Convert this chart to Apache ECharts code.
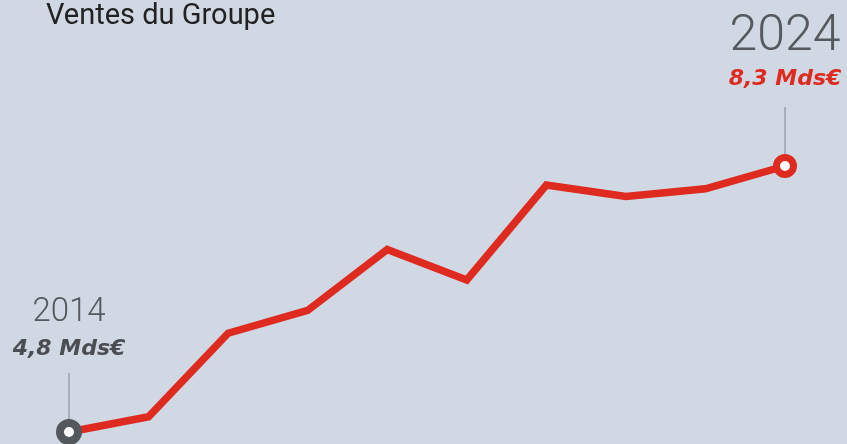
<!DOCTYPE html>
<html>
<head>
<meta charset="utf-8">
<script src="https://cdn.jsdelivr.net/npm/echarts@6/dist/echarts.min.js"></script>
<style>
  html, body { margin: 0; padding: 0; background: #d0d8e4; }
  #chart { width: 847px; height: 444px; }
</style>
</head>
<body>
<div id="chart"></div>
<script>
const years = ['2014', '2016', '2017', '2018', '2019', '2020', '2021', '2022', '2023', '2024'];
const sales = [4.8, 5.0, 6.1, 6.4, 7.2, 6.8, 8.05, 7.9, 8.0, 8.3];
const firstLabel = '4,8 Mds€';
const lastLabel = '8,3 Mds€';

const RED = '#df2a1f';
const GREY = '#53585c';

const last = sales.length - 1;

const lineData = sales.map((v, i) => {
  if (i === 0) {
    return {
      value: v,
      symbol: 'circle',
      symbolSize: 18,
      itemStyle: { color: '#fff', borderColor: GREY, borderWidth: 8 },
      label: {
        show: true,
        position: 'top',
        distance: 57,
        formatter: '{y|' + years[0] + '}\n{v|' + firstLabel + '}',
        rich: {
          y: { fontFamily: 'Roboto', fontWeight: 300, fontSize: 33, color: '#55595d', lineHeight: 46, align: 'center' },
          v: { fontFamily: 'DejaVu Sans', fontWeight: 'bold', fontStyle: 'italic', fontSize: 22, color: '#4a4e52', lineHeight: 26, align: 'center' }
        }
      }
    };
  }
  if (i === last) {
    return {
      value: v,
      symbol: 'circle',
      symbolSize: 17,
      itemStyle: { color: '#fff', borderColor: RED, borderWidth: 7 },
      label: {
        show: true,
        position: 'top',
        distance: 62,
        formatter: '{y|' + years[last] + '}\n{v|' + lastLabel + '}',
        rich: {
          y: { fontFamily: 'Roboto', fontWeight: 300, fontSize: 50, color: '#55595d', lineHeight: 58, align: 'center' },
          v: { fontFamily: 'DejaVu Sans', fontWeight: 'bold', fontStyle: 'italic', fontSize: 22, color: RED, lineHeight: 26, align: 'center' }
        }
      }
    };
  }
  return { value: v, symbol: 'none' };
});

// thin grey connectors above the first and last points
const connectorData = sales.map((v, i) => (i === 0 || i === last) ? v : '-');

const chart = echarts.init(document.getElementById('chart'));
chart.setOption({
  animation: false,
  backgroundColor: '#d0d8e4',
  title: {
    text: 'Ventes du Groupe',
    left: 41,
    top: -3,
    textStyle: { fontFamily: 'Roboto', fontWeight: 'normal', fontSize: 29, color: '#222' }
  },
  grid: { left: 69, right: 62, top: 166, bottom: 12 },
  xAxis: {
    type: 'category',
    data: years,
    boundaryGap: false,
    show: false
  },
  yAxis: {
    type: 'value',
    min: 4.8,
    max: 8.3,
    show: false
  },
  series: [
    {
      type: 'scatter',
      data: connectorData,
      symbol: 'rect',
      symbolSize: [1.5, 47],
      symbolOffset: [0, -35.5],
      itemStyle: { color: '#8e949b' },
      silent: true,
      z: 1
    },
    {
      type: 'line',
      data: lineData,
      showSymbol: true,
      lineStyle: { color: RED, width: 7.5, join: 'miter' },
      itemStyle: { color: RED },
      z: 2
    }
  ]
});
</script>
</body>
</html>
